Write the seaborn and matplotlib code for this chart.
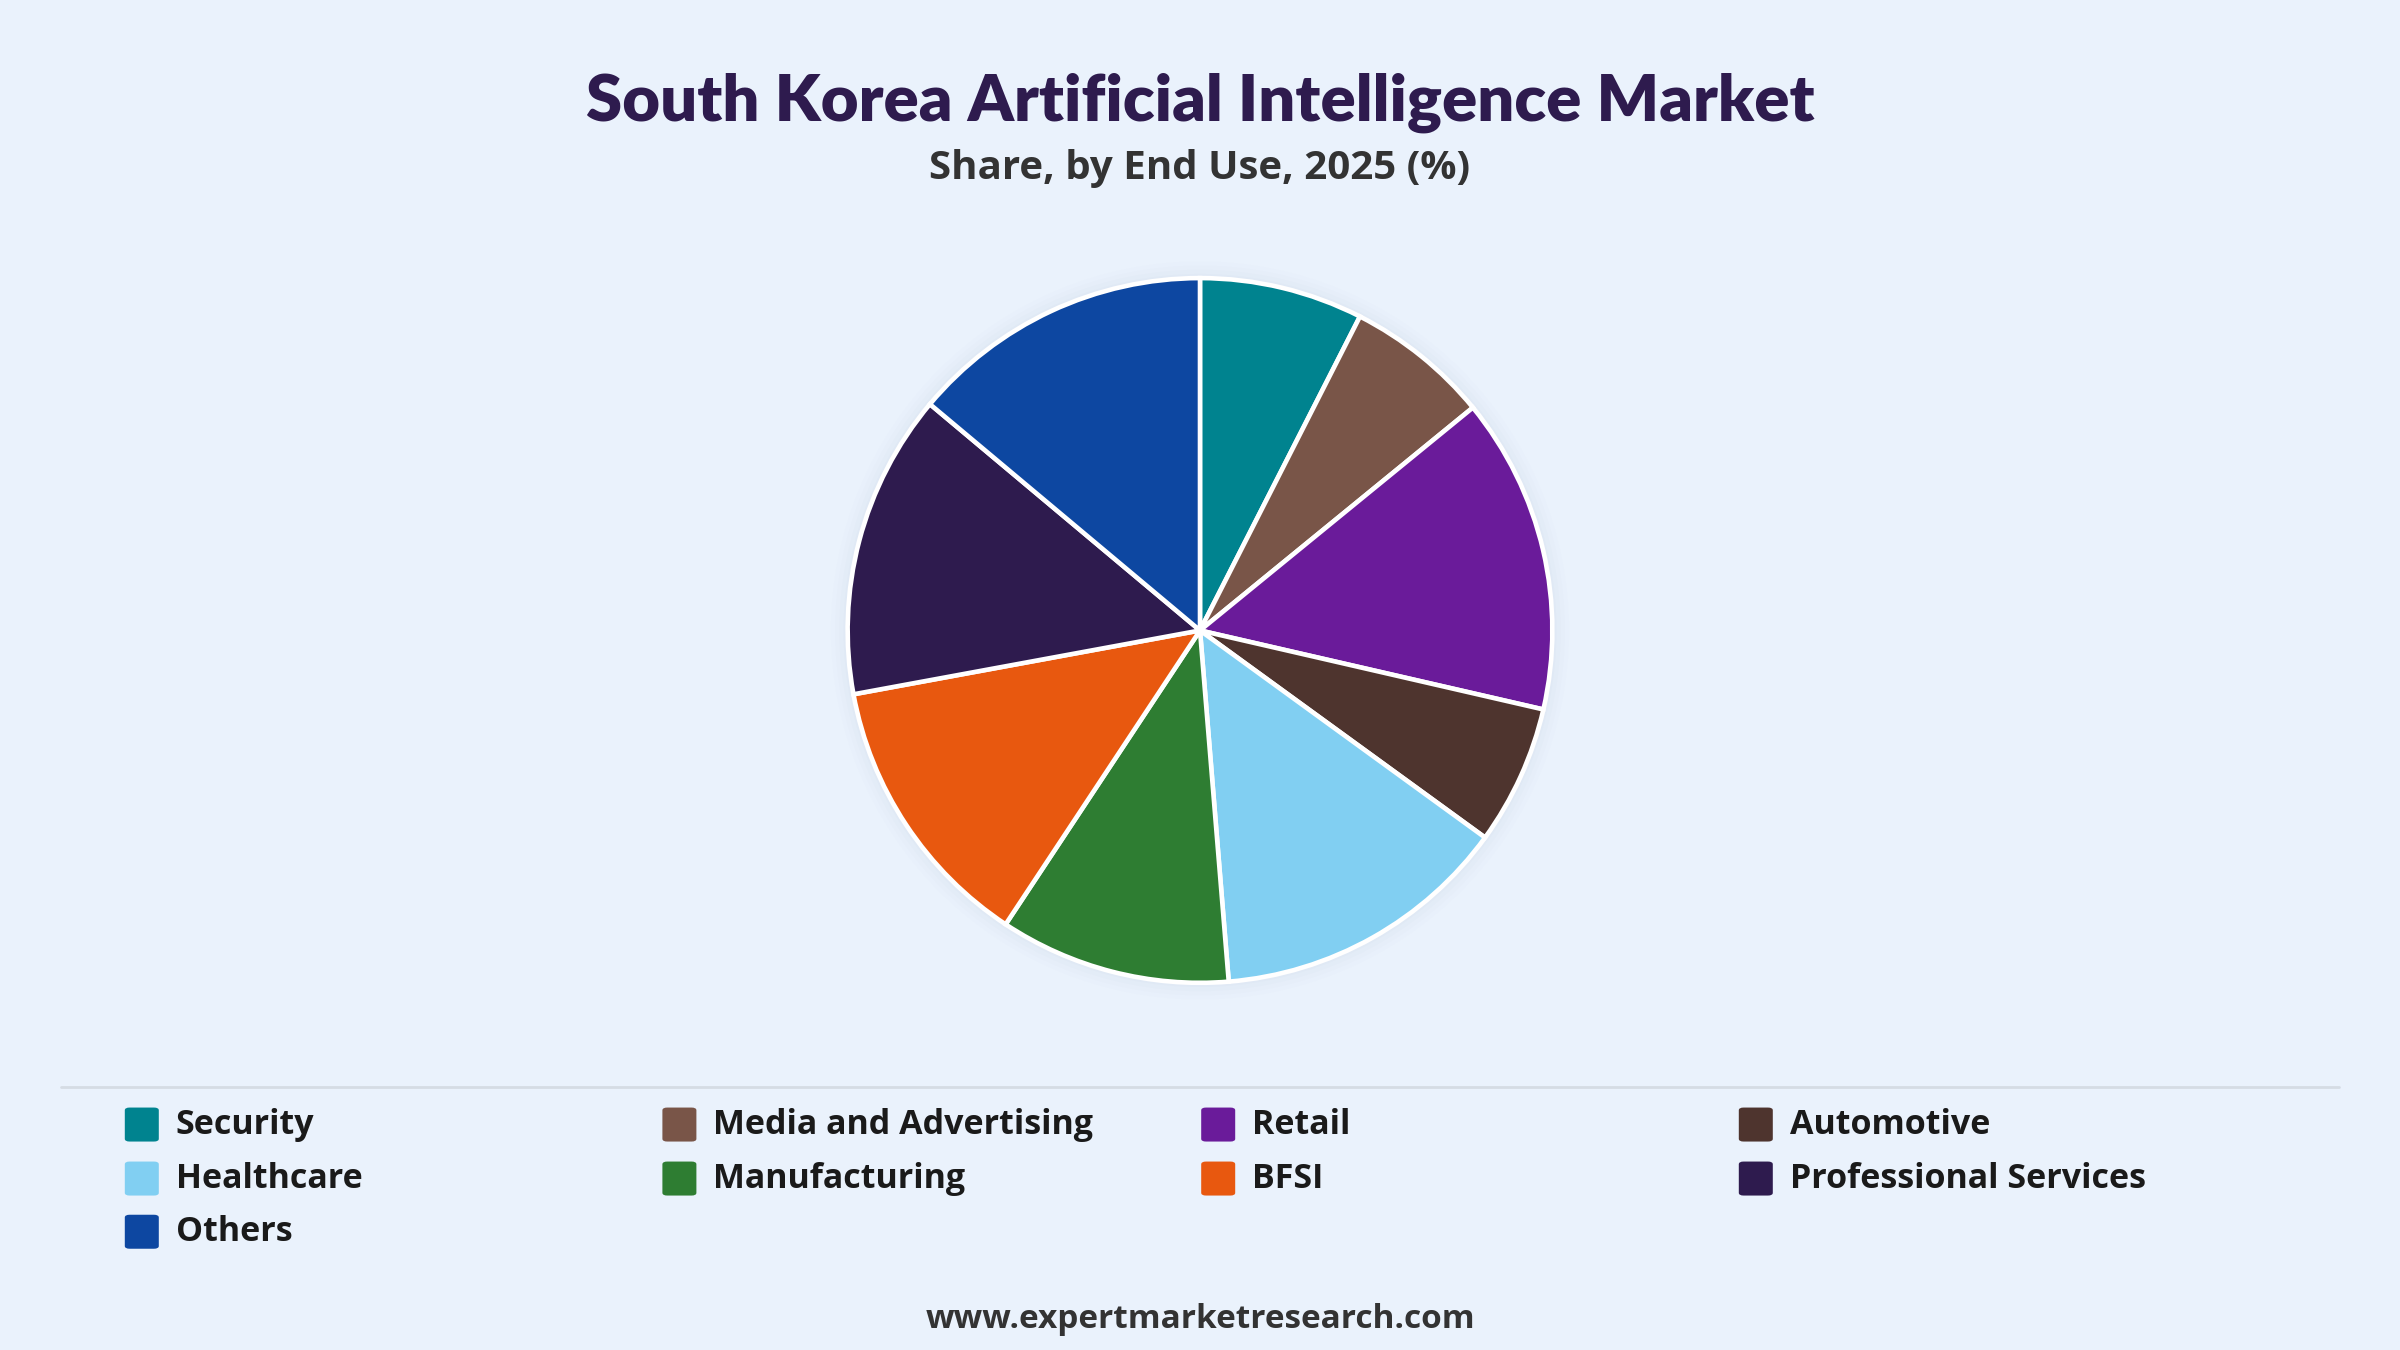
import matplotlib
matplotlib.use("Agg")
import matplotlib.pyplot as plt
import seaborn as sns
from matplotlib.patches import FancyBboxPatch, Circle

# data
segments = ["Security", "Media and Advertising", "Retail", "Automotive",
            "Healthcare", "Manufacturing", "BFSI", "Professional Services", "Others"]
shares = [7.5, 6.6, 14.5, 6.4, 13.7, 10.6, 12.8, 14.0, 13.9]
colors = ["#00838F", "#795548", "#6A1B9A", "#4E342E", "#81CFF2",
          "#2E7D32", "#E8580F", "#2E1B4E", "#0D47A1"]

bg = "#EAF2FC"
sns.set_theme(style="white")
plt.rcParams["font.family"] = ["Open Sans", "DejaVu Sans"]

fig = plt.figure(figsize=(24, 13.5), dpi=100, facecolor=bg)

fig.text(0.5, 0.924, "South Korea Artificial Intelligence Market", ha="center", va="center",
         fontsize=47, fontweight="heavy", color="#2E1B4E", family=["Lato", "DejaVu Sans"])
fig.text(0.5, 0.875, "Share, by End Use, 2025 (%)", ha="center", va="center",
         fontsize=29, fontweight="bold", color="#333333")

# pie (radius in figure-height units)
r = 0.261
lim = 1.06
ax = fig.add_axes([0.5 - r * lim * 13.5 / 24, 0.533 - r * lim, 2 * r * lim * 13.5 / 24, 2 * r * lim])
ax.set_facecolor(bg)
for i, a in enumerate([0.025, 0.02, 0.015, 0.01]):
    ax.add_patch(Circle((0, 0), 1.0 + 0.012 * (i + 1), color="#8090A8", alpha=a, lw=0, zorder=0))
ax.pie(shares, colors=colors, startangle=90, counterclock=False,
       wedgeprops=dict(edgecolor="white", linewidth=3.3))
ax.set_xlim(-lim, lim)
ax.set_ylim(-lim, lim)
ax.set_aspect("equal")
ax.axis("off")

# separator
fig.add_artist(plt.Line2D([0.0255, 0.9745], [0.195, 0.195], color="#D5DCE4", lw=2))

# legend
col_x = [0.052, 0.276, 0.5005, 0.7245]
row_y = [0.167, 0.127, 0.0876]
sq_w, sq_h = 34 / 2400, 34 / 1350
for i, (name, c) in enumerate(zip(segments, colors)):
    x = col_x[i % 4]
    y = row_y[i // 4]
    fig.add_artist(FancyBboxPatch((x, y - sq_h / 2), sq_w, sq_h,
                                  boxstyle="round,pad=0,rounding_size=0.002",
                                  facecolor=c, edgecolor="none", transform=fig.transFigure))
    fig.text(x + sq_w + 0.007, y, name, ha="left", va="center",
             fontsize=24.5, fontweight="bold", color="#1A1A1A")

fig.text(0.5, 0.0227, "www.expertmarketresearch.com", ha="center", va="center",
         fontsize=24, fontweight="bold", color="#333333")

fig.savefig("out.png", dpi=100, facecolor=bg)
